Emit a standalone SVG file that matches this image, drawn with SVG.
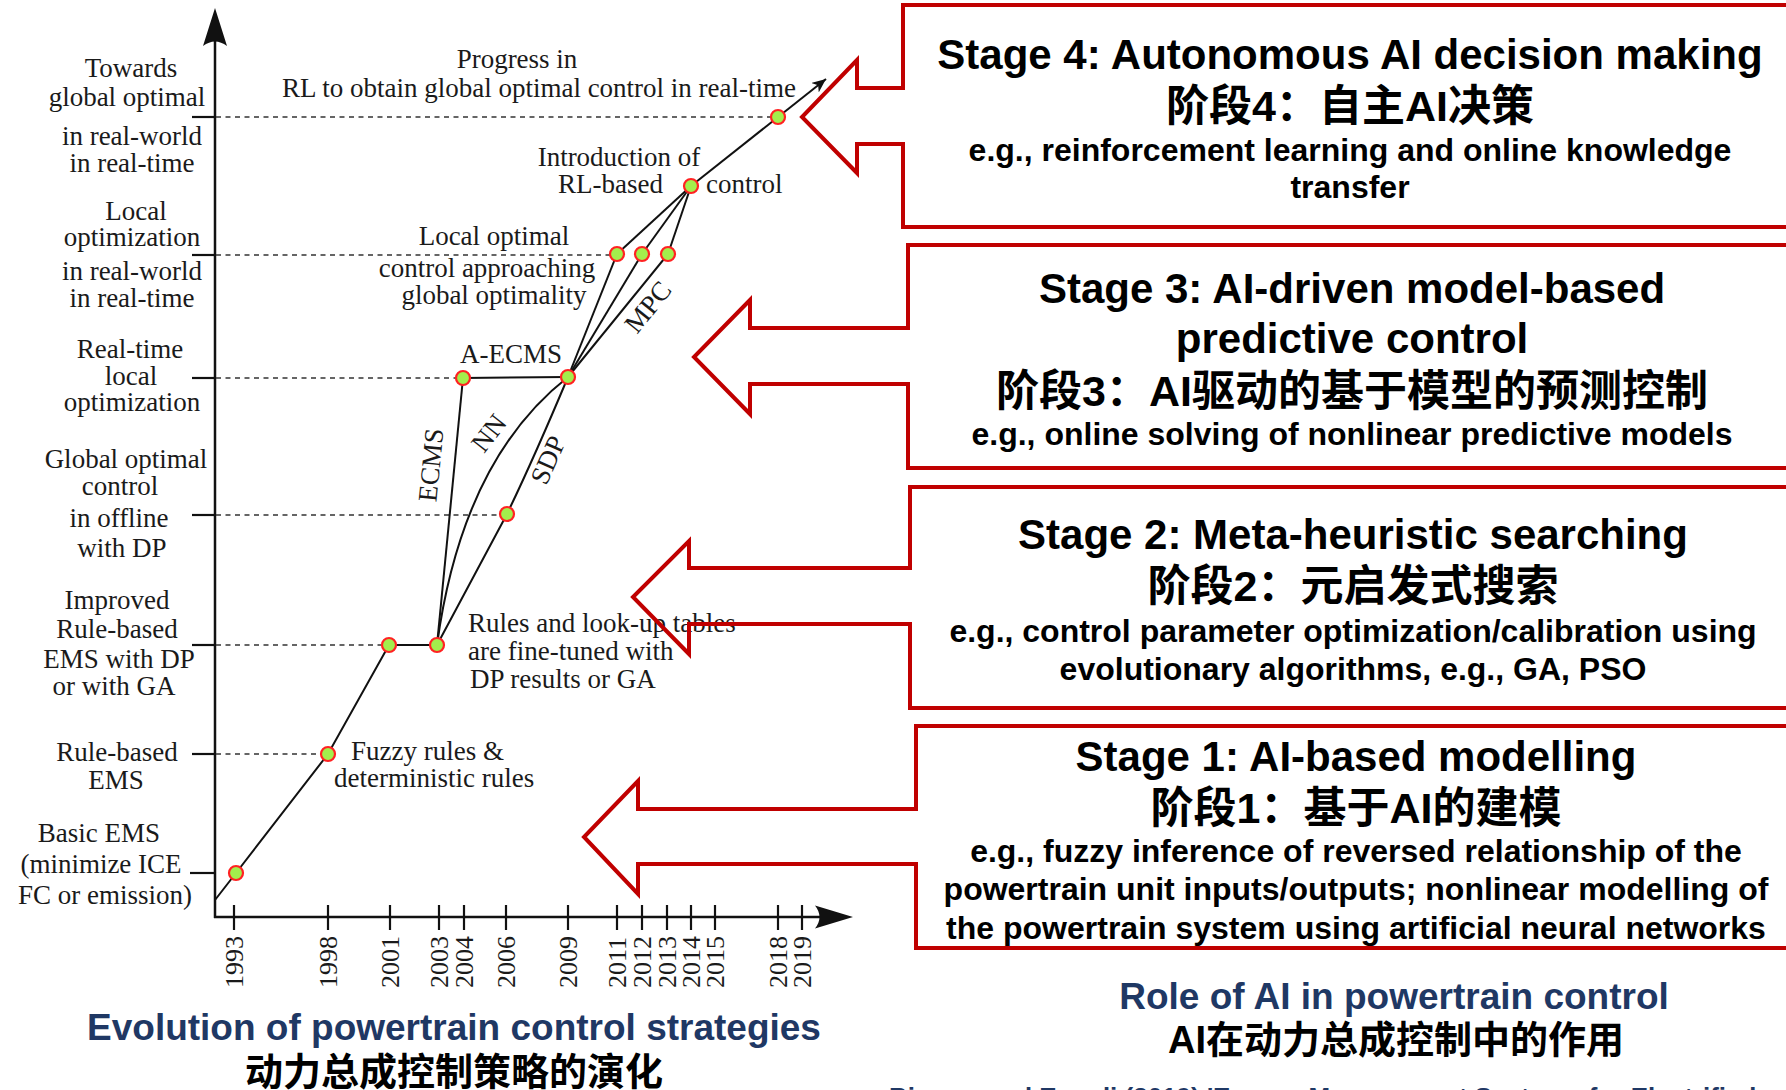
<svg xmlns="http://www.w3.org/2000/svg" width="1786" height="1090" viewBox="0 0 1786 1090">
<style>
.ser{font-family:"Liberation Serif","Times New Roman",serif;font-size:27px;fill:#1a1a1a}
.lbl{text-anchor:middle}
.yr{font-family:"Liberation Serif","Times New Roman",serif;font-size:26px;fill:#1a1a1a}
.ax{stroke:#111;stroke-width:2.5;fill:none}
.tk{stroke:#111;stroke-width:2.2;fill:none}
.ln{stroke:#111;stroke-width:2;fill:none}
.dash{stroke:#333;stroke-width:1.5;stroke-dasharray:5 4.5;fill:none}
.pt{fill:#A3EE4C;stroke:#FF2222;stroke-width:2.2}
.blk{fill:none;stroke:#C00000;stroke-width:4;stroke-linejoin:miter}
.st{font-family:"Liberation Sans",Arial,"Noto Sans CJK SC",sans-serif;font-weight:bold;fill:#000;text-anchor:middle}
.t1{font-size:42px}
.cn{font-size:43px;font-family:"Liberation Sans",Arial,"Noto Sans CJK SC",sans-serif}
.eg{font-size:32px}
.cap{font-family:"Liberation Sans",Arial,"Noto Sans CJK SC",sans-serif;font-weight:bold;fill:#1F3864;text-anchor:middle;font-size:37px}
.capcn{font-family:"Liberation Sans",Arial,"Noto Sans CJK SC",sans-serif;font-weight:bold;fill:#000;text-anchor:middle;font-size:38px}
</style>
<defs>
<marker id="sarr" markerUnits="userSpaceOnUse" markerWidth="16" markerHeight="12" refX="14" refY="6" orient="auto">
<path d="M0,0 L14,6 L0,12 L4,6 Z" fill="#111"/>
</marker>
</defs>
<rect width="1786" height="1090" fill="#fff"/>

<g id="axes">
<line class="ax" x1="215" y1="918" x2="215" y2="30"/>
<path d="M215,8 L227,46 Q215,37 203,46 Z" fill="#111"/>
<line class="ax" x1="214" y1="917" x2="830" y2="917"/>
<path d="M853,917 L815,905.5 Q824,917 815,928.5 Z" fill="#111"/>
<g class="tk">
<line x1="192" y1="117" x2="215" y2="117"/>
<line x1="192" y1="255" x2="215" y2="255"/>
<line x1="192" y1="378" x2="215" y2="378"/>
<line x1="192" y1="515" x2="215" y2="515"/>
<line x1="192" y1="645" x2="215" y2="645"/>
<line x1="192" y1="754" x2="215" y2="754"/>
<line x1="190" y1="873" x2="215" y2="873"/>
<line x1="234" y1="905" x2="234" y2="930"/>
<line x1="328" y1="905" x2="328" y2="930"/>
<line x1="390" y1="905" x2="390" y2="930"/>
<line x1="439" y1="905" x2="439" y2="930"/>
<line x1="464" y1="905" x2="464" y2="930"/>
<line x1="506" y1="905" x2="506" y2="930"/>
<line x1="568" y1="905" x2="568" y2="930"/>
<line x1="617" y1="905" x2="617" y2="930"/>
<line x1="642" y1="905" x2="642" y2="930"/>
<line x1="667" y1="905" x2="667" y2="930"/>
<line x1="691" y1="905" x2="691" y2="930"/>
<line x1="715" y1="905" x2="715" y2="930"/>
<line x1="778" y1="905" x2="778" y2="930"/>
<line x1="802" y1="905" x2="802" y2="930"/>
</g>
<g class="yr">
<text transform="translate(243,988) rotate(-90)">1993</text>
<text transform="translate(337,988) rotate(-90)">1998</text>
<text transform="translate(399,988) rotate(-90)">2001</text>
<text transform="translate(448,988) rotate(-90)">2003</text>
<text transform="translate(473,988) rotate(-90)">2004</text>
<text transform="translate(515,988) rotate(-90)">2006</text>
<text transform="translate(577,988) rotate(-90)">2009</text>
<text transform="translate(626,988) rotate(-90)">2011</text>
<text transform="translate(651,988) rotate(-90)">2012</text>
<text transform="translate(676,988) rotate(-90)">2013</text>
<text transform="translate(700,988) rotate(-90)">2014</text>
<text transform="translate(724,988) rotate(-90)">2015</text>
<text transform="translate(787,988) rotate(-90)">2018</text>
<text transform="translate(811,988) rotate(-90)">2019</text>
</g>
</g>

<g id="axis-labels" class="ser lbl">
<text x="131" y="77">Towards</text>
<text x="127" y="106">global optimal</text>
<text x="132" y="145">in real-world</text>
<text x="132" y="172">in real-time</text>
<text x="136" y="220">Local</text>
<text x="132" y="246">optimization</text>
<text x="132" y="280">in real-world</text>
<text x="132" y="307">in real-time</text>
<text x="130" y="358">Real-time</text>
<text x="131" y="385">local</text>
<text x="132" y="411">optimization</text>
<text x="126" y="468">Global optimal</text>
<text x="120" y="495">control</text>
<text x="119" y="527">in offline</text>
<text x="122" y="557">with DP</text>
<text x="117" y="609">Improved</text>
<text x="117" y="638">Rule-based</text>
<text x="119" y="668">EMS with DP</text>
<text x="114" y="695">or with GA</text>
<text x="117" y="761">Rule-based</text>
<text x="116" y="789">EMS</text>
<text x="99" y="842">Basic EMS</text>
<text x="101" y="873">(minimize ICE</text>
<text x="105" y="904">FC or emission)</text>
</g>

<g id="connectors">
<g class="dash">
<line x1="216" y1="117" x2="771" y2="117"/>
<line x1="216" y1="255" x2="610" y2="255"/>
<line x1="216" y1="378" x2="456" y2="378"/>
<line x1="216" y1="515" x2="500" y2="515"/>
<line x1="216" y1="645" x2="382" y2="645"/>
<line x1="216" y1="754" x2="321" y2="754"/>
</g>
<g class="ln">
<polyline points="215,900 236,873 328,754 389,645 437,645"/>
<line x1="437" y1="645" x2="463" y2="378"/>
<path d="M437,645 Q462,460 568,377"/>
<path d="M437,645 L507,514 Q534,458 568,377"/>
<line x1="463" y1="378" x2="568" y2="377"/>
<line x1="568" y1="377" x2="617" y2="254"/>
<line x1="568" y1="377" x2="642" y2="254"/>
<line x1="568" y1="377" x2="668" y2="254"/>
<line x1="617" y1="254" x2="691" y2="186"/>
<line x1="642" y1="254" x2="691" y2="186"/>
<line x1="668" y1="254" x2="691" y2="186"/>
<line x1="691" y1="186" x2="826" y2="79" marker-end="url(#sarr)"/>
</g>
</g>

<g id="chart-labels" class="ser">
<text x="517" y="68" text-anchor="middle">Progress in</text>
<text x="539" y="97" text-anchor="middle">RL to obtain global optimal control in real-time</text>
<text x="619" y="166" text-anchor="middle">Introduction of</text>
<text x="663" y="193" text-anchor="end">RL-based</text>
<text x="706" y="193">control</text>
<text x="494" y="245" text-anchor="middle">Local optimal</text>
<text x="487" y="277" text-anchor="middle">control approaching</text>
<text x="494" y="304" text-anchor="middle">global optimality</text>
<text x="511" y="363" text-anchor="middle">A-ECMS</text>
<text transform="translate(431,465) rotate(-84.4)" y="9" text-anchor="middle">ECMS</text>
<text transform="translate(489,433) rotate(-52)" y="9" text-anchor="middle">NN</text>
<text transform="translate(548,460) rotate(-66)" y="9" text-anchor="middle">SDP</text>
<text transform="translate(648,307) rotate(-51)" y="9" text-anchor="middle">MPC</text>
<text x="468" y="632">Rules and look-up tables</text>
<text x="468" y="660">are fine-tuned with</text>
<text x="470" y="688">DP results or GA</text>
<text x="351" y="760">Fuzzy rules &amp;</text>
<text x="334" y="787">deterministic rules</text>
</g>

<g id="points">
<circle class="pt" cx="236" cy="873" r="7"/>
<circle class="pt" cx="328" cy="754" r="7"/>
<circle class="pt" cx="389" cy="645" r="7"/>
<circle class="pt" cx="437" cy="645" r="7"/>
<circle class="pt" cx="507" cy="514" r="7"/>
<circle class="pt" cx="463" cy="378" r="7"/>
<circle class="pt" cx="568" cy="377" r="7"/>
<circle class="pt" cx="617" cy="254" r="7"/>
<circle class="pt" cx="642" cy="254" r="7"/>
<circle class="pt" cx="668" cy="254" r="7"/>
<circle class="pt" cx="691" cy="186" r="7"/>
<circle class="pt" cx="778" cy="117" r="7"/>
</g>

<g id="stage4">
<path class="blk" d="M1800,5 H903 V88 H857 V60 L802,117 L857,173 V144 H903 V227 H1800"/>
<text class="st t1" x="1350" y="69">Stage 4: Autonomous AI decision making</text>
<text class="st cn" x="1350" y="121">阶段4：自主AI决策</text>
<text class="st eg" x="1350" y="161">e.g., reinforcement learning and online knowledge</text>
<text class="st eg" x="1350" y="198">transfer</text>
</g>

<g id="stage3">
<path class="blk" d="M1800,245 H908 V328 H750 V300 L694,357 L750,414 V384 H908 V468 H1800"/>
<text class="st t1" x="1352" y="303">Stage 3: AI-driven model-based</text>
<text class="st t1" x="1352" y="353">predictive control</text>
<text class="st cn" x="1352" y="406">阶段3：AI驱动的基于模型的预测控制</text>
<text class="st eg" x="1352" y="445">e.g., online solving of nonlinear predictive models</text>
</g>

<g id="stage2">
<path class="blk" d="M1800,487 H910 V568 H689 V541 L633,597 L689,654 V624 H910 V708 H1800"/>
<text class="st t1" x="1353" y="549">Stage 2: Meta-heuristic searching</text>
<text class="st cn" x="1353" y="601">阶段2：元启发式搜索</text>
<text class="st eg" x="1353" y="642">e.g., control parameter optimization/calibration using</text>
<text class="st eg" x="1353" y="680">evolutionary algorithms, e.g., GA, PSO</text>
</g>

<g id="stage1">
<path class="blk" d="M1800,726 H916 V809 H638 V781 L584,837 L638,894 V864 H916 V948 H1800"/>
<text class="st t1" x="1356" y="771">Stage 1: AI-based modelling</text>
<text class="st cn" x="1356" y="823">阶段1：基于AI的建模</text>
<text class="st eg" x="1356" y="862">e.g., fuzzy inference of reversed relationship of the</text>
<text class="st eg" x="1356" y="900">powertrain unit inputs/outputs; nonlinear modelling of</text>
<text class="st eg" x="1356" y="939">the powertrain system using artificial neural networks</text>
</g>

<g id="captions">
<text class="cap" x="454" y="1040">Evolution of powertrain control strategies</text>
<text class="capcn" x="454" y="1085">动力总成控制策略的演化</text>
<text class="cap" x="1394" y="1009">Role of AI in powertrain control</text>
<text class="capcn" x="1396" y="1053">AI在动力总成控制中的作用</text>
<text x="889" y="1106" style="font-family:'Liberation Sans',Arial,sans-serif;font-weight:bold;font-size:26px;fill:#1F3864">Biswas and Emadi (2019) 'Energy Management Systems for Electrified</text>
</g>
</svg>
